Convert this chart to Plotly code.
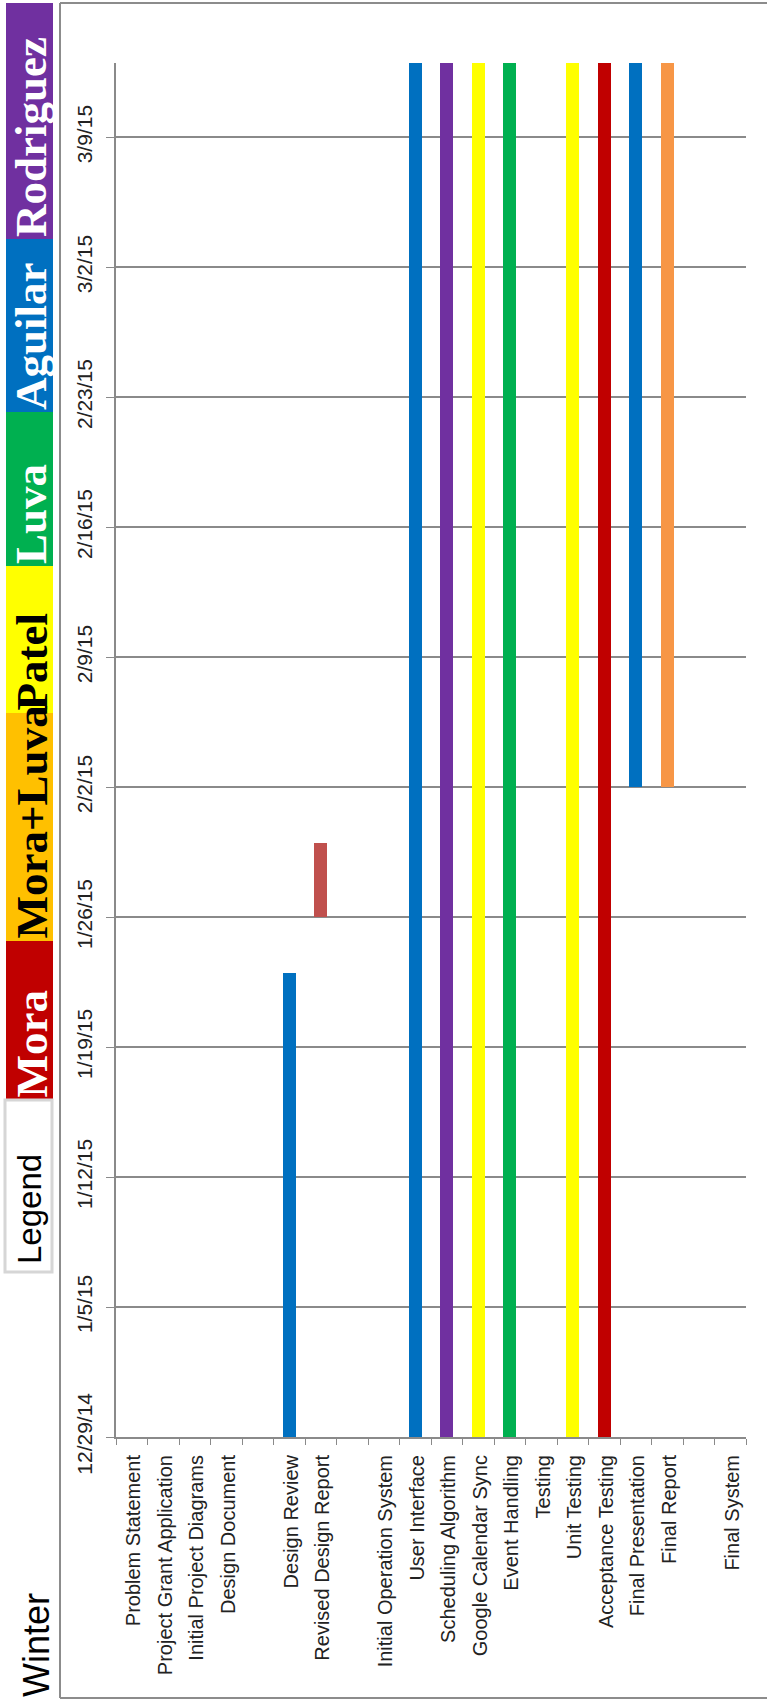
import plotly.graph_objects as go
import pandas as pd

# ---------------- data ----------------
categories = ["Problem Statement", "Project Grant Application", "Initial Project Diagrams",
              "Design Document", " ", "Design Review", "Revised Design Report", "  ",
              "Initial Operation System", "User Interface", "Scheduling Algorithm",
              "Google Calendar Sync", "Event Handling", "Testing", "Unit Testing",
              "Acceptance Testing", "Final Presentation", "Final Report", "   ", "Final System"]

task_names = ["Design Review", "Revised Design Report", "User Interface", "Scheduling Algorithm",
              "Google Calendar Sync", "Event Handling", "Unit Testing", "Acceptance Testing",
              "Final Presentation", "Final Report"]
task_starts = ["2014-12-29", "2015-01-26", "2014-12-29", "2014-12-29", "2014-12-29",
               "2014-12-29", "2014-12-29", "2014-12-29", "2015-02-02", "2015-02-02"]
task_ends = ["2015-01-23", "2015-01-30", "2015-03-13", "2015-03-13", "2015-03-13",
             "2015-03-13", "2015-03-13", "2015-03-13", "2015-03-13", "2015-03-13"]
task_colors = ["#0070C0", "#C0504D", "#0070C0", "#7030A0", "#FFFF00",
               "#00B050", "#FFFF00", "#C00000", "#0070C0", "#F79646"]

legend_names = ["Rodriguez", "Aguilar", "Luva", "Patel", "Mora+Luva", "Mora"]
legend_colors = ["#7030A0", "#0070C0", "#00B050", "#FFFF00", "#FFC000", "#C00000"]
legend_text_colors = ["white", "white", "white", "black", "black", "white"]

date_min, date_max = "2014-12-29", "2015-03-13"

# ---------------- figure ----------------
starts = pd.to_datetime(task_starts)
ends = pd.to_datetime(task_ends)
durations_ms = [(e - s).total_seconds() * 1000 for s, e in zip(starts, ends)]

fig = go.Figure()
fig.add_trace(go.Bar(
    x=task_names, y=durations_ms, base=task_starts,
    marker=dict(color=task_colors, line=dict(width=0)),
    width=0.4, showlegend=False, hoverinfo="skip",
))

W, H = 767, 1705
L, R, T, B = 116, 746, 63, 1437
PW, PH = R - L, B - T


def xp(px):
    return (px - L) / PW


def yp(py):
    return (B - py) / PH


shapes = []
annotations = []

# outer frame
frame_col = "#8c8c8c"
shapes.append(dict(type="line", xref="paper", yref="paper", x0=xp(60), x1=xp(60),
                   y0=yp(3), y1=yp(1698), line=dict(color=frame_col, width=2)))
shapes.append(dict(type="line", xref="paper", yref="paper", x0=xp(60), x1=xp(770),
                   y0=yp(3), y1=yp(3), line=dict(color=frame_col, width=2)))
shapes.append(dict(type="line", xref="paper", yref="paper", x0=xp(60), x1=xp(770),
                   y0=yp(1698), y1=yp(1698), line=dict(color=frame_col, width=2)))

# colour legend strip (top -> bottom pixel boundaries)
bounds = [3, 239, 412, 566, 713, 941, 1100]
for i, name in enumerate(legend_names):
    top, bot = bounds[i], bounds[i + 1]
    shapes.append(dict(type="rect", xref="paper", yref="paper",
                       x0=xp(6), x1=xp(53), y0=yp(bot), y1=yp(top),
                       fillcolor=legend_colors[i], line=dict(width=0)))
    annotations.append(dict(xref="paper", yref="paper", x=xp(31), y=yp(bot),
                            xanchor="center", yanchor="bottom", textangle=-90,
                            text=name, showarrow=False,
                            font=dict(family="Liberation Serif", size=45, weight="bold",
                                      color=legend_text_colors[i])))
# "Legend" box
shapes.append(dict(type="rect", xref="paper", yref="paper",
                   x0=xp(5), x1=xp(52), y0=yp(1272), y1=yp(1100),
                   fillcolor="white", line=dict(color="#d6d6d6", width=3)))
annotations.append(dict(xref="paper", yref="paper", x=xp(29), y=yp(1266),
                        xanchor="center", yanchor="bottom", textangle=-90,
                        text="Legend", showarrow=False,
                        font=dict(family="Liberation Sans", size=33, color="black")))
# "Winter"
annotations.append(dict(xref="paper", yref="paper", x=xp(36), y=yp(1699),
                        xanchor="center", yanchor="bottom", textangle=-90,
                        text="Winter", showarrow=False,
                        font=dict(family="Liberation Sans", size=36, color="black")))

grid_col = "#8a8a8a"
fig.update_layout(
    width=W, height=H,
    margin=dict(l=L, r=W - R, t=T, b=H - B, pad=0),
    plot_bgcolor="white", paper_bgcolor="white",
    shapes=shapes, annotations=annotations,
    bargap=0,
    xaxis=dict(
        type="category", categoryorder="array", categoryarray=categories,
        tickmode="array", tickvals=categories, ticktext=categories,
        range=[-0.5, len(categories) - 0.5],
        tickangle=-90, ticks="outside", tickson="boundaries", ticklen=6,
        tickcolor=grid_col, showline=True, linecolor=grid_col, linewidth=2,
        showgrid=False, tickfont=dict(family="Liberation Sans", size=20, color="#222222"),
        ticklabelstandoff=8, ticklabelshift=2, fixedrange=True,
    ),
    yaxis=dict(
        type="date", range=[date_min, date_max],
        tick0=date_min, dtick=7 * 86400000, tickformat="%-m/%-d/%y",
        tickangle=-90, ticks="outside", ticklen=8, tickcolor=grid_col,
        showgrid=True, gridcolor=grid_col, gridwidth=1.5,
        showline=True, linecolor=grid_col, linewidth=2,
        zeroline=False,
        tickfont=dict(family="Liberation Sans", size=21, color="#222222"),
        ticklabelstandoff=6, fixedrange=True,
    ),
    font=dict(family="Liberation Sans"),
)

fig.write_html("out.html", config={"displayModeBar": False},
               post_script="document.body.style.margin='0';")
